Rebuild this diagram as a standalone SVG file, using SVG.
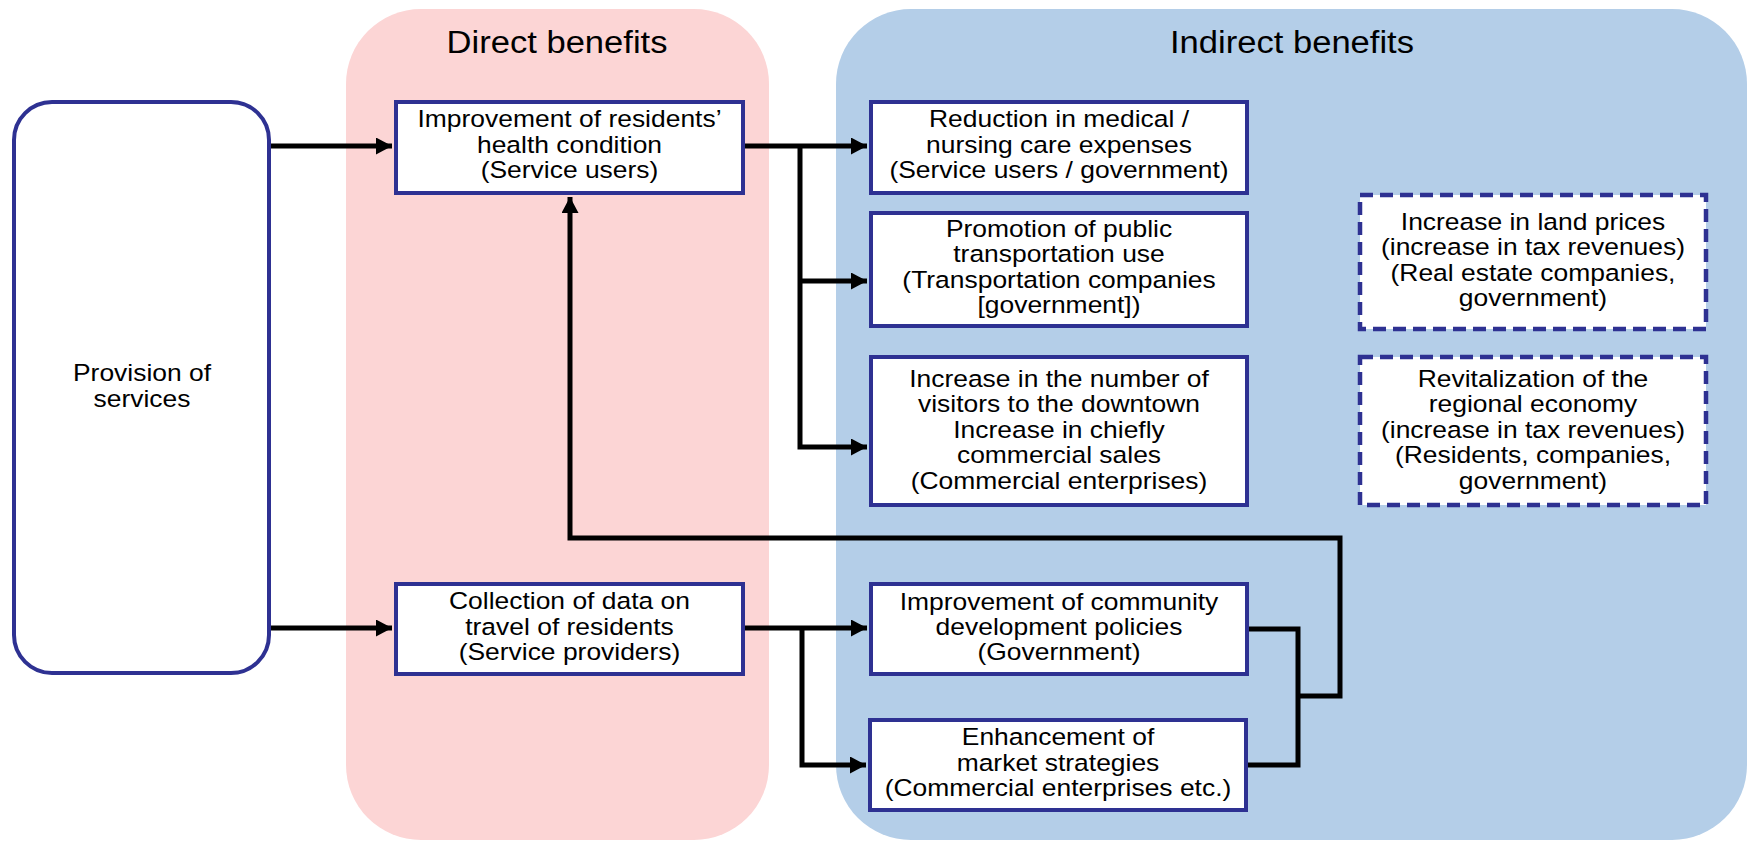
<svg xmlns="http://www.w3.org/2000/svg" width="1749" height="844" viewBox="0 0 1749 844">
<style>
.bg{fill:#ffffff}
.box{fill:#ffffff;stroke:#2E3192;stroke-width:4}
.dash{fill:#ffffff;stroke:#2E3192;stroke-width:4.5;stroke-dasharray:13 7}
.t{font-family:"Liberation Sans",Arial,sans-serif;font-size:23.5px;fill:#000;text-anchor:middle}
.title{font-family:"Liberation Sans",Arial,sans-serif;font-size:31px;fill:#000;text-anchor:middle}
.c{fill:none;stroke:#000;stroke-width:5;stroke-linejoin:miter}
</style>
<defs>
<marker id="ah" markerUnits="userSpaceOnUse" markerWidth="17" markerHeight="18" refX="16" refY="8.5" orient="auto">
<path d="M0,0 L16,8.5 L0,17 z" fill="#000"/>
</marker>
</defs>
<rect class="bg" x="0" y="0" width="1749" height="844"/>
<g id="panel-direct">
<rect x="346" y="9" width="423" height="831" rx="75" ry="75" fill="#FCD5D5"/>
<text class="title" transform="translate(557 0) scale(1.115 1)" x="0" y="53">Direct benefits</text>
</g>
<g id="panel-indirect">
<rect x="836" y="9" width="911" height="831" rx="75" ry="75" fill="#B4CEE8"/>
<text class="title" transform="translate(1292 0) scale(1.115 1)" x="0" y="53">Indirect benefits</text>
</g>
<g id="connectors">
<path class="c" d="M271,146 H392" marker-end="url(#ah)"/>
<path class="c" d="M271,628 H392" marker-end="url(#ah)"/>
<path class="c" d="M745,146 H867" marker-end="url(#ah)"/>
<path class="c" d="M800,146 V447 H867" marker-end="url(#ah)"/>
<path class="c" d="M800,281 H867" marker-end="url(#ah)"/>
<path class="c" d="M745,628 H867" marker-end="url(#ah)"/>
<path class="c" d="M802,628 V765 H866" marker-end="url(#ah)"/>
<path class="c" d="M1247,629 H1298 V765 H1246"/>
<path class="c" d="M1298,696 H1340 V538 H570 V197" marker-end="url(#ah)"/>
</g>
<g id="provision">
<rect class="box" x="14" y="102" width="255" height="571" rx="38" ry="38"/>
<text class="t" transform="translate(142 0) scale(1.125 1)"><tspan x="0" y="381">Provision of</tspan><tspan x="0" y="407">services</tspan></text>
</g>
<g id="health">
<rect class="box" x="396" y="102" width="347" height="91"/>
<text class="t" transform="translate(569.5 0) scale(1.125 1)"><tspan x="0" y="127.5">Improvement of residents’</tspan><tspan x="0" y="153">health condition</tspan><tspan x="0" y="178.5">(Service users)</tspan></text>
</g>
<g id="collection">
<rect class="box" x="396" y="584" width="347" height="90"/>
<text class="t" transform="translate(569.5 0) scale(1.125 1)"><tspan x="0" y="609.5">Collection of data on</tspan><tspan x="0" y="635">travel of residents</tspan><tspan x="0" y="660.5">(Service providers)</tspan></text>
</g>
<g id="reduction">
<rect class="box" x="871" y="102" width="376" height="91"/>
<text class="t" transform="translate(1059 0) scale(1.125 1)"><tspan x="0" y="127.5">Reduction in medical /</tspan><tspan x="0" y="153">nursing care expenses</tspan><tspan x="0" y="178.5">(Service users / government)</tspan></text>
</g>
<g id="promotion">
<rect class="box" x="871" y="213" width="376" height="113"/>
<text class="t" transform="translate(1059 0) scale(1.125 1)"><tspan x="0" y="237">Promotion of public</tspan><tspan x="0" y="262.5">transportation use</tspan><tspan x="0" y="288">(Transportation companies</tspan><tspan x="0" y="313.5">[government])</tspan></text>
</g>
<g id="visitors">
<rect class="box" x="871" y="357" width="376" height="148"/>
<text class="t" transform="translate(1059 0) scale(1.125 1)"><tspan x="0" y="387">Increase in the number of</tspan><tspan x="0" y="412.5">visitors to the downtown</tspan><tspan x="0" y="438">Increase in chiefly</tspan><tspan x="0" y="463.5">commercial sales</tspan><tspan x="0" y="489">(Commercial enterprises)</tspan></text>
</g>
<g id="community">
<rect class="box" x="871" y="584" width="376" height="90"/>
<text class="t" transform="translate(1059 0) scale(1.125 1)"><tspan x="0" y="610">Improvement of community</tspan><tspan x="0" y="635">development policies</tspan><tspan x="0" y="660">(Government)</tspan></text>
</g>
<g id="enhancement">
<rect class="box" x="870" y="720" width="376" height="90"/>
<text class="t" transform="translate(1058 0) scale(1.125 1)"><tspan x="0" y="745">Enhancement of</tspan><tspan x="0" y="771">market strategies</tspan><tspan x="0" y="796">(Commercial enterprises etc.)</tspan></text>
</g>
<g id="land">
<rect class="dash" x="1360" y="195" width="346" height="134"/>
<text class="t" transform="translate(1533 0) scale(1.125 1)"><tspan x="0" y="230">Increase in land prices</tspan><tspan x="0" y="255.5">(increase in tax revenues)</tspan><tspan x="0" y="281">(Real estate companies,</tspan><tspan x="0" y="306.5">government)</tspan></text>
</g>
<g id="revitalization">
<rect class="dash" x="1360" y="357" width="346" height="148"/>
<text class="t" transform="translate(1533 0) scale(1.125 1)"><tspan x="0" y="387">Revitalization of the</tspan><tspan x="0" y="412.5">regional economy</tspan><tspan x="0" y="438">(increase in tax revenues)</tspan><tspan x="0" y="463.5">(Residents, companies,</tspan><tspan x="0" y="489">government)</tspan></text>
</g>
</svg>
